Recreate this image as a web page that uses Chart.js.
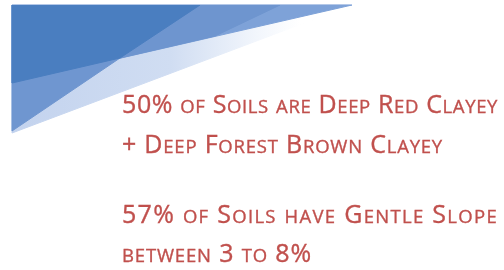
<!DOCTYPE html>
<html>
<head>
<meta charset="utf-8">
<script src="https://cdn.jsdelivr.net/npm/chart.js@4/dist/chart.umd.min.js"></script>
<style>
    body { margin: 0; background: #ffffff; }
    #wrap { position: relative; width: 504px; height: 270px; overflow: hidden; }
    #chart { position: absolute; left: 0; top: 0; }
    .line {
        position: absolute;
        left: 122px;
        white-space: nowrap;
        font-family: "Open Sans", Lato, sans-serif;
        font-size: 25px;
        line-height: 25px;
        color: #c0504d;
        -webkit-text-stroke: 0.35px #c0504d;
    }
    .sc { font-size: 18.5px; }
</style>
</head>
<body>
<div id="wrap">
    <canvas id="chart" width="504" height="270"></canvas>
    <div class="line" id="l1">50% of Soils are Deep Red Clayey</div>
    <div class="line" id="l2">+ Deep Forest Brown Clayey</div>
    <div class="line" id="l3">57% of Soils have Gentle Slope</div>
    <div class="line" id="l4">between 3 to 8%</div>
</div>
<script>
// corner graphic: polygons in page units (x to the right, y downwards)
var lightX = [12, 352, 12, 12];
var lightY = [5, 5, 133, 5];
var paleTopX = [12, 352, 12, 12];
var paleTopY = [5, 5, 83, 5];
var midTopX = [12, 280, 215, 12, 12];
var midTopY = [5, 5, 36, 83, 5];
var midLeftX = [12, 120, 12, 12];
var midLeftY = [83, 58, 131, 83];
var darkX = [12, 200, 120, 12, 12];
var darkY = [5, 5, 58, 83, 5];
var topEdgeX = [12, 352];
var topEdgeY = [4.5, 4.5];

// text lines: target right edge and baseline
var lineIds = ['l1', 'l2', 'l3', 'l4'];
var lineRight = [498, 443, 498, 312];
var lineBase = [113, 153, 223, 262];

function points(xs, ys) {
    return xs.map(function (x, i) { return { x: x, y: ys[i] }; });
}

function shape(xs, ys, color) {
    return {
        data: points(xs, ys),
        showLine: true,
        fill: 'shape',
        backgroundColor: color,
        borderColor: color,
        borderWidth: 1,
        pointRadius: 0,
        tension: 0
    };
}

// the pale band fades out towards its right tip
function paleFade(context) {
    var chart = context.chart;
    if (!chart.chartArea) return '#c6d5ee';
    var g = chart.ctx.createLinearGradient(12, 0, 300, 0);
    g.addColorStop(0, '#c3d3ee');
    g.addColorStop(0.55, '#d0ddf2');
    g.addColorStop(0.85, '#f2f6fc');
    g.addColorStop(1, '#ffffff');
    return g;
}

var light = shape(lightX, lightY, '#c6d5ee');
light.backgroundColor = paleFade;
light.borderColor = paleFade;

var topEdge = {
    data: points(topEdgeX, topEdgeY),
    showLine: true,
    fill: false,
    borderColor: '#b4c8e8',
    borderWidth: 1,
    pointRadius: 0
};

new Chart(document.getElementById('chart'), {
    type: 'scatter',
    data: {
        datasets: [
            topEdge,
            shape(darkX, darkY, '#4a7ec0'),
            shape(midLeftX, midLeftY, '#6f96d0'),
            shape(midTopX, midTopY, '#6e95cf'),
            shape(paleTopX, paleTopY, '#7ea2d8'),
            light
        ]
    },
    options: {
        responsive: false,
        animation: false,
        layout: { padding: 0 },
        plugins: { legend: { display: false }, tooltip: { enabled: false } },
        scales: {
            x: { type: 'linear', min: 0, max: 504, display: false },
            y: { type: 'linear', min: 0, max: 270, reverse: true, display: false }
        }
    }
});

// small caps by hand: lower-case runs become smaller capitals
function smallCaps(el) {
    var text = el.textContent;
    el.textContent = '';
    text.split(/([a-z]+)/).forEach(function (part) {
        if (!part) return;
        if (/^[a-z]+$/.test(part)) {
            var s = document.createElement('span');
            s.className = 'sc';
            s.textContent = part.toUpperCase();
            el.appendChild(s);
        } else {
            el.appendChild(document.createTextNode(part));
        }
    });
}

function placeText() {
    lineIds.forEach(function (id, i) {
        var el = document.getElementById(id);
        el.style.letterSpacing = '0px';
        el.style.top = (lineBase[i] - 22) + 'px';
        var w = el.getBoundingClientRect().width;
        var n = el.textContent.length;
        var target = lineRight[i] - 122;
        el.style.letterSpacing = ((target - w) / n) + 'px';
    });
}
lineIds.forEach(function (id) { smallCaps(document.getElementById(id)); });
if (document.fonts && document.fonts.ready) {
    document.fonts.ready.then(placeText);
} else {
    placeText();
}
</script>
</body>
</html>
